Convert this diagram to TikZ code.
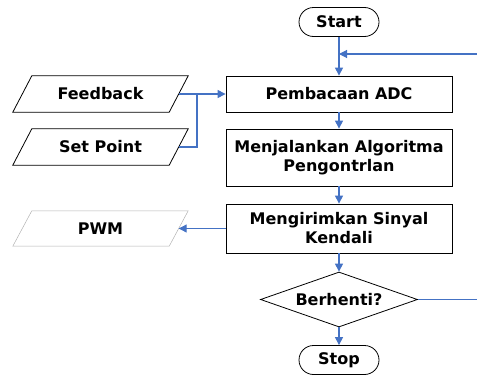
\documentclass[tikz,border=0pt]{standalone}
\usepackage{fontspec}
\setmainfont{DejaVu Sans}
\usetikzlibrary{shapes.geometric,arrows.meta}
\definecolor{flow}{RGB}{68,114,196}
\tikzset{
  lbl/.style={font=\bfseries\fontsize{16}{19}\selectfont, align=center, text=black},
  term/.style={lbl, draw=black, line width=0.8pt, rounded corners=14.5pt, minimum width=80pt, minimum height=29pt, inner sep=0pt},
  proc/.style={lbl, draw=black, line width=0.8pt, minimum width=226pt, inner sep=0pt},
  io/.style={lbl, minimum width=156pt, inner sep=0pt},
  ioedge/.style={draw=black, line width=0.8pt},
  ioedgegray/.style={draw=gray!60, line width=0.5pt},
  decide/.style={lbl, draw=black, line width=0.8pt, diamond, aspect=2.85, inner sep=0pt, minimum width=157pt, minimum height=55pt},
  conn/.style={draw=flow, line width=1.1pt},
  arr/.style={conn, -{Triangle[length=8pt,width=8pt]}}
}
% slanted outline around an input/output node
\newcommand\slantbox[2]{%
  \draw[#2] ([xshift=9.5pt]#1.north west) -- ([xshift=9.5pt]#1.north east)
    -- ([xshift=-9.5pt]#1.south east) -- ([xshift=-9.5pt]#1.south west) -- cycle;}
\begin{document}
\begin{tikzpicture}[x=1pt,y=-1pt]
\useasboundingbox (0,0) rectangle (477,375);
% terminals
\node[term] (start) at (339,22) {Start};
\node[term] (stop) at (339,360) {Stop};
% process boxes
\node[proc, minimum height=36pt] (adc) at (339,94) {Pembacaan ADC};
\node[proc, minimum height=57pt] (algo) at (339,157.5) {Menjalankan Algoritma\\Pengontrlan};
\node[proc, minimum height=49pt] (send) at (339,228.5) {Mengirimkan Sinyal\\Kendali};
% inputs and output
\node[io, minimum height=36pt] (fb) at (100.5,94) {Feedback};
\node[io, minimum height=36pt] (sp) at (100.5,147) {Set Point};
\node[io, minimum height=35pt] (pwm) at (100.5,228.5) {PWM};
\slantbox{fb}{ioedge}
\slantbox{sp}{ioedge}
\slantbox{pwm}{ioedgegray}
% decision
\node[decide] (stopq) at (339,299.5) {Berhenti?};
% loop-back entry points
\coordinate (loopin) at (477,54);
\coordinate (loopout) at (477,299.5);
\coordinate (merge) at (339,54);
\coordinate (join) at (197,94);
% main flow
\draw[conn] (start.south) -- (merge);
\draw[arr] (merge) -- (adc.north);
\draw[arr] (loopin) -- (merge);
\draw[arr] (adc.south) -- (algo.north);
\draw[arr] (algo.south) -- (send.north);
\draw[arr] (send.south) -- (stopq.north);
\draw[arr] (stopq.south) -- (stop.north);
\draw[conn] (stopq.east) -- (loopout);
% inputs into ADC reading
\draw[arr] (fb.east) -- (adc.west);
\draw[conn] (sp.east) -| (join);
% control output
\draw[arr] (send.west) -- (pwm.east);
\end{tikzpicture}
\end{document}
